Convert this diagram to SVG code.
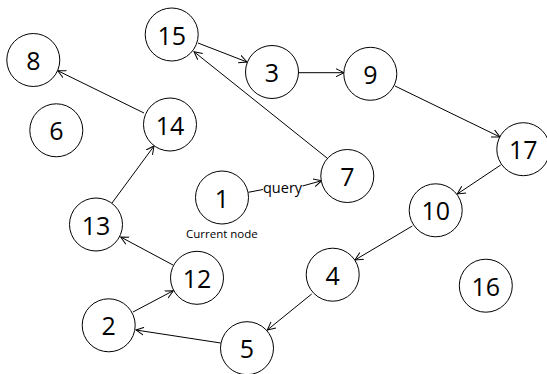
<svg xmlns="http://www.w3.org/2000/svg" width="547" height="374" viewBox="0 0 547 374">
  <style>
    .node circle { fill: #ffffff; stroke: #000000; stroke-width: 1; }
    .node text { font-family: "Open Sans", "Liberation Sans", sans-serif; font-size: 25px; fill: #000000; text-anchor: middle; dominant-baseline: central; }
    .edges line { stroke: #000000; stroke-width: 1; fill: none; marker-end: url(#arrow); }
    .edges line.plain { marker-end: none; }
    .label { font-family: "Open Sans", "Liberation Sans", sans-serif; fill: #000000; }
  </style>
  <defs>
    <marker id="arrow" markerUnits="userSpaceOnUse" markerWidth="10" markerHeight="10" refX="8" refY="4" orient="auto" viewBox="0 0 10 8">
      <path d="M0,0 L8,4 L0,8" fill="none" stroke="#000000" stroke-width="1"/>
    </marker>
  </defs>
  <rect width="547" height="374" fill="#ffffff"/>

  <g class="edges">
    <line x1="198" y1="43" x2="247" y2="62"/>
    <line x1="298" y1="72.7" x2="344" y2="72.7"/>
    <line x1="395" y1="86" x2="500" y2="137"/>
    <line x1="327" y1="158" x2="194" y2="51.7"/>
    <line x1="144" y1="113" x2="57.7" y2="70.7"/>
    <line x1="112" y1="203" x2="154" y2="146"/>
    <line x1="173" y1="265" x2="120.7" y2="237"/>
    <line x1="133" y1="312" x2="173.3" y2="290.7"/>
    <line x1="220.7" y1="343" x2="136" y2="330"/>
    <line x1="500.7" y1="165" x2="457.3" y2="194"/>
    <line x1="412.3" y1="226" x2="355" y2="260"/>
    <line x1="311.7" y1="294" x2="267.3" y2="330"/>
    <line class="plain" x1="248.3" y1="192.3" x2="263" y2="189.5"/>
    <line x1="302.5" y1="186" x2="321.7" y2="180.7"/>
  </g>
  <text class="label" x="263" y="192.5" font-size="14.5">query</text>
  <text class="label" x="186" y="238.3" font-size="11.5">Current node</text>

  <g id="node-8" class="node"><circle cx="33.3" cy="60" r="26.5"/><text x="33.3" y="60">8</text></g>
  <g id="node-6" class="node"><circle cx="56.3" cy="130.3" r="26.5"/><text x="56.3" y="130.3">6</text></g>
  <g id="node-15" class="node"><circle cx="171.7" cy="34.5" r="26.5"/><text x="171.7" y="34.5">15</text></g>
  <g id="node-3" class="node"><circle cx="272" cy="72" r="26.5"/><text x="272" y="72">3</text></g>
  <g id="node-9" class="node"><circle cx="370.3" cy="73.8" r="26.5"/><text x="370.3" y="73.8">9</text></g>
  <g id="node-14" class="node"><circle cx="170" cy="124.5" r="26.5"/><text x="170" y="124.5">14</text></g>
  <g id="node-17" class="node"><circle cx="523.3" cy="149.2" r="26.5"/><text x="523.3" y="149.2">17</text></g>
  <g id="node-7" class="node"><circle cx="347.3" cy="176" r="26.5"/><text x="347.3" y="176">7</text></g>
  <g id="node-1" class="node"><circle cx="222" cy="197.5" r="26.5"/><text x="222" y="197.5">1</text></g>
  <g id="node-13" class="node"><circle cx="96" cy="224.5" r="26.5"/><text x="96" y="224.5">13</text></g>
  <g id="node-10" class="node"><circle cx="435.7" cy="210.3" r="26.5"/><text x="435.7" y="210.3">10</text></g>
  <g id="node-12" class="node"><circle cx="197" cy="277.8" r="26.5"/><text x="197" y="277.8">12</text></g>
  <g id="node-4" class="node"><circle cx="332.7" cy="274.7" r="26.5"/><text x="332.7" y="274.7">4</text></g>
  <g id="node-16" class="node"><circle cx="485.8" cy="285.7" r="26.5"/><text x="485.8" y="285.7">16</text></g>
  <g id="node-2" class="node"><circle cx="108.7" cy="325.3" r="26.5"/><text x="108.7" y="325.3">2</text></g>
  <g id="node-5" class="node"><circle cx="247" cy="348.2" r="26.5"/><text x="247" y="348.2">5</text></g>
</svg>
